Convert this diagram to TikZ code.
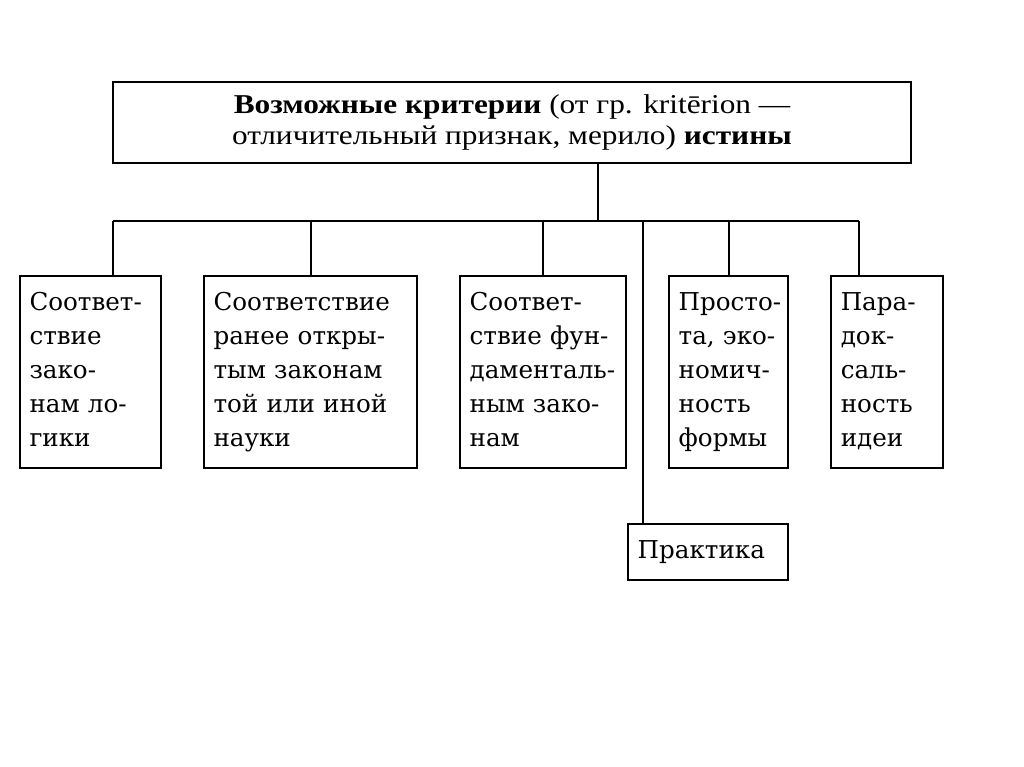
\documentclass[tikz,border=0pt]{standalone}
\usepackage{fontspec}
\setmainfont{DejaVu Serif}
\newfontfamily\headfont[FakeStretch=1.15]{Liberation Serif}
\usetikzlibrary{positioning}
\newcommand{\boxfont}{\fontsize{14}{19.3}\selectfont\hyphenpenalty=10000\relax\exhyphenpenalty=10000\relax\hbadness=10000\relax\hfuzz=20pt\relax}

\begin{document}
\begin{tikzpicture}[x=0.02cm, y=-0.02cm, node distance = 0.82cm, auto]
\tikzstyle{block} = [rectangle, draw, line width=1.2pt, text = black, align=left,
    inner xsep=0.19cm, minimum height=3.84cm, font=\boxfont]
\tikzstyle{head} = [rectangle, draw, line width=1.2pt, align=center,
    minimum width=15.96cm, minimum height=1.62cm, font=\headfont\fontsize{15.5}{18}\selectfont]
\tikzstyle{line} = [draw, line width=1.1pt]
    \useasboundingbox (0,0) rectangle (1024,767);
    % Place nodes
    \node [head] (criteria) at (512,122.5) {\textbf{Возможные критерии} (от гр. kritērion —\\
        отличительный признак, мерило) \textbf{истины}};
    \node [block, text width=2.44cm] (logic) at (90.5,372) {\strut Соответ-\\ствие\\зако-\\нам~ло-\\гики\strut};
    \node [block, text width=3.88cm, right=of logic] (science) {\strut Соответствие\\ранее~откры-\\тым~законам\\той~или~иной\\науки\strut};
    \node [block, text width=2.94cm, right=of science] (fundam) {\strut Соответ-\\ствие~фун-\\даменталь-\\ным~зако-\\нам\strut};
    \node [block, text width=2cm, right=of fundam] (simple) {\strut Просто-\\та,~эко-\\номич-\\ность\\формы\strut};
    \node [block, text width=1.86cm, right=of simple] (paradox) {\strut Пара-\\док-\\саль-\\ность\\идеи\strut};
    \node [block, text width=2.82cm, minimum height=1.12cm, anchor=north east, yshift=-1.08cm]
        (practice) at (simple.south east) {Практика};

%paths
    \coordinate (hub) at (598,221);
    \coordinate (busL) at (113,221);
    \coordinate (busR) at (859,221);
    \coordinate (prline) at (643,221);
    \path [line] (criteria.south -| hub) -- (hub);
    \path [line] (busL) -- (busR);
    \path [line] (busL) -- (busL |- logic.north);
    \path [line] (science.north) -- (science.north |- busL);
    \path [line] (fundam.north) -- (fundam.north |- busL);
    \path [line] (simple.north) -- (simple.north |- busL);
    \path [line] (busR) -- (busR |- paradox.north);
    \path [line] (prline) -- (prline |- practice.north);

\end{tikzpicture}
\end{document}
